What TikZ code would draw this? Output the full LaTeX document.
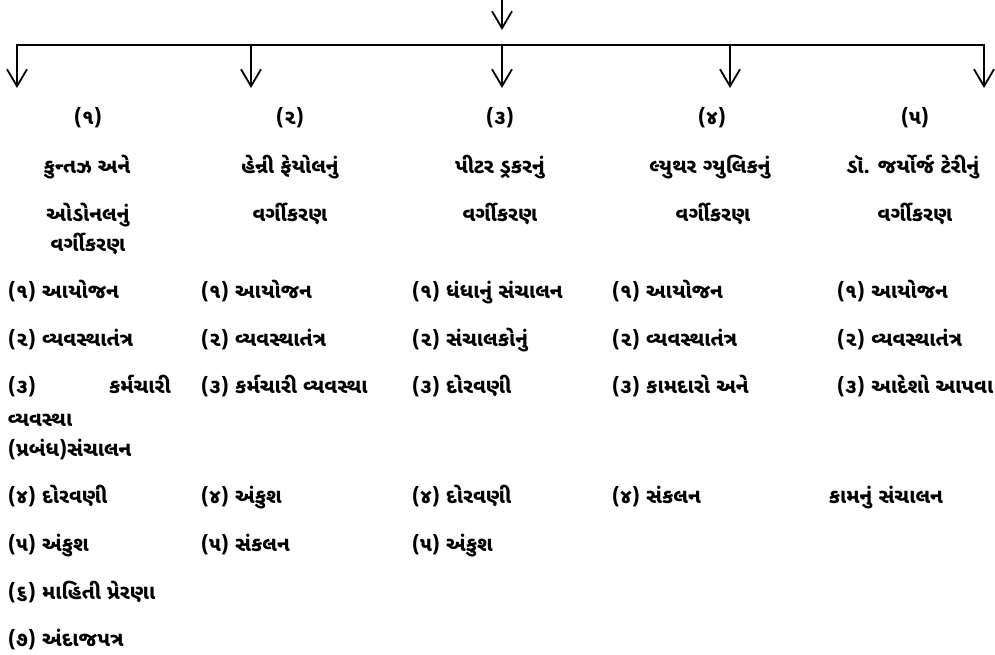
\documentclass[tikz,border=0pt]{standalone}
\usepackage{fontspec}
\newfontfamily\gujfont[Script=Gujarati]{Noto Sans Gujarati UI}
\usetikzlibrary{arrows.meta}

\begin{document}
\begin{tikzpicture}[x=1pt,y=-1pt,>={Straight Barb[length=17pt,width=20pt]},
                    line width=1.8pt,
                    font=\gujfont\bfseries\fontsize{20.5}{24}\selectfont]

  \tikzstyle{every node}=[inner sep=0pt]
  \tikzstyle{head}=[anchor=mid,yshift=-4pt]
  \tikzstyle{item}=[anchor=mid west,yshift=-4pt]

  \useasboundingbox (0,0) rectangle (995,654);

  \coordinate (SRC) at (502,0);
  \coordinate (TOP) at (502,30);
  \coordinate (B1) at (17,45);
  \coordinate (B2) at (251,45);
  \coordinate (B3) at (502,45);
  \coordinate (B4) at (730,45);
  \coordinate (B5) at (984,45);
  \coordinate (E1) at (17,88);
  \coordinate (E2) at (251,88);
  \coordinate (E3) at (502,88);
  \coordinate (E4) at (730,88);
  \coordinate (E5) at (984,88);

  \draw[->] (SRC) -- (TOP);
  \draw[line cap=rect] (B1) -- (B5);
  \draw[->] (B1) -- (E1);
  \draw[->] (B2) -- (E2);
  \draw[->] (B3) -- (E3);
  \draw[->] (B4) -- (E4);
  \draw[->] (B5) -- (E5);

  \node[head] (N1) at (88,118)  {(૧)};
  \node[head] (N2) at (290,118) {(૨)};
  \node[head] (N3) at (500,118) {(૩)};
  \node[head] (N4) at (712,118) {(૪)};
  \node[head] (N5) at (915,118) {(૫)};

  \node[head] (T1a) at (87,167)  {કુન્તઝ અને};
  \node[head] (T1b) at (88,215)  {ઓડોનલનું};
  \node[head] (T1c) at (88,245)  {વર્ગીકરણ};
  \node[head] (T2a) at (290,167) {હેન્રી ફેયોલનું};
  \node[head] (T2b) at (290,215) {વર્ગીકરણ};
  \node[head] (T3a) at (500,167) {પીટર ડ્રકરનું};
  \node[head] (T3b) at (500,215) {વર્ગીકરણ};
  \node[head] (T4a) at (710,167) {લ્યુથર ગ્યુલિકનું};
  \node[head] (T4b) at (713,215) {વર્ગીકરણ};
  \node[head] (T5a) at (913,167) {ડૉ. જર્યોર્જ ટેરીનું};
  \node[head] (T5b) at (915,215) {વર્ગીકરણ};

  \node[item] (A1) at (7,292) {(૧) આયોજન};
  \node[item] (A2) at (7,340) {(૨) વ્યવસ્થાતંત્ર};
  \node[item,text width=163pt] (A3) at (7,387) {(૩)\hfill કર્મચારી};
  \node[item] (A3b) at (7,420) {વ્યવસ્થા};
  \node[item] (A3c) at (7,450) {(પ્રબંધ)સંચાલન};
  \node[item] (A4) at (7,497) {(૪) દોરવણી};
  \node[item] (A5) at (7,545) {(૫) અંકુશ};
  \node[item] (A6) at (7,593) {(૬) માહિતી પ્રેરણા};
  \node[item] (A7) at (7,640) {(૭) અંદાજપત્ર};

  \node[item] (C1) at (200,292) {(૧) આયોજન};
  \node[item] (C2) at (200,340) {(૨) વ્યવસ્થાતંત્ર};
  \node[item] (C3) at (200,387) {(૩) કર્મચારી વ્યવસ્થા};
  \node[item] (C4) at (200,497) {(૪) અંકુશ};
  \node[item] (C5) at (200,545) {(૫) સંકલન};

  \node[item] (P1) at (411,292) {(૧) ધંધાનું સંચાલન};
  \node[item] (P2) at (411,340) {(૨) સંચાલકોનું};
  \node[item] (P3) at (411,387) {(૩) દોરવણી};
  \node[item] (P4) at (411,497) {(૪) દોરવણી};
  \node[item] (P5) at (411,545) {(૫) અંકુશ};

  \node[item] (L1) at (611,292) {(૧) આયોજન};
  \node[item] (L2) at (611,340) {(૨) વ્યવસ્થાતંત્ર};
  \node[item] (L3) at (611,387) {(૩) કામદારો અને};
  \node[item] (L4) at (611,497) {(૪) સંકલન};

  \node[item] (G1) at (836,292) {(૧) આયોજન};
  \node[item] (G2) at (836,340) {(૨) વ્યવસ્થાતંત્ર};
  \node[item] (G3) at (836,387) {(૩) આદેશો આપવા};
  \node[item] (G4) at (828,497) {કામનું સંચાલન};
\end{tikzpicture}
\end{document}
